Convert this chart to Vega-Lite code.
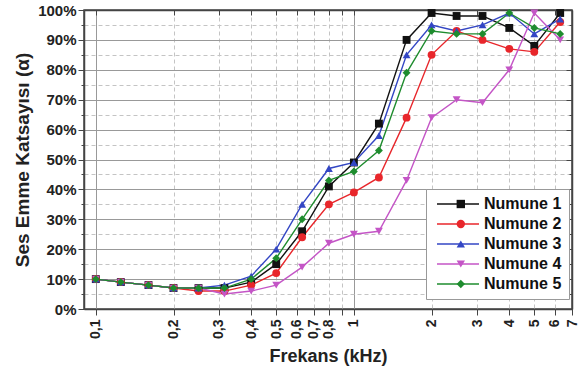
{
  "$schema": "https://vega.github.io/schema/vega-lite/v6.json",
  "width": 488,
  "height": 299,
  "autosize": {"type": "none"},
  "padding": {"left": 84, "top": 10, "right": 7, "bottom": 62},
  "background": "white",
  "config": {
    "font": "Liberation Sans",
    "view": {"stroke": "#444", "strokeWidth": 1.5},
    "axis": {"domainColor": "#444", "domainWidth": 1.5, "tickColor": "#444", "labelColor": "#222", "titleColor": "#222"}
  },
  "resolve": {"legend": {"color": "independent", "shape": "independent"}},
  "data": {"values": [
    {"f":0.1,"s":"Numune 1","v":10},{"f":0.125,"s":"Numune 1","v":9},{"f":0.16,"s":"Numune 1","v":8},{"f":0.2,"s":"Numune 1","v":7},{"f":0.25,"s":"Numune 1","v":7},{"f":0.315,"s":"Numune 1","v":7},{"f":0.4,"s":"Numune 1","v":9},{"f":0.5,"s":"Numune 1","v":15},{"f":0.63,"s":"Numune 1","v":26},{"f":0.8,"s":"Numune 1","v":41},{"f":1,"s":"Numune 1","v":49},{"f":1.25,"s":"Numune 1","v":62},{"f":1.6,"s":"Numune 1","v":90},{"f":2,"s":"Numune 1","v":99},{"f":2.5,"s":"Numune 1","v":98},{"f":3.15,"s":"Numune 1","v":98},{"f":4,"s":"Numune 1","v":94},{"f":5,"s":"Numune 1","v":88},{"f":6.3,"s":"Numune 1","v":99},
    {"f":0.1,"s":"Numune 2","v":10},{"f":0.125,"s":"Numune 2","v":9},{"f":0.16,"s":"Numune 2","v":8},{"f":0.2,"s":"Numune 2","v":7},{"f":0.25,"s":"Numune 2","v":6},{"f":0.315,"s":"Numune 2","v":6},{"f":0.4,"s":"Numune 2","v":8},{"f":0.5,"s":"Numune 2","v":12},{"f":0.63,"s":"Numune 2","v":24},{"f":0.8,"s":"Numune 2","v":35},{"f":1,"s":"Numune 2","v":39},{"f":1.25,"s":"Numune 2","v":44},{"f":1.6,"s":"Numune 2","v":64},{"f":2,"s":"Numune 2","v":85},{"f":2.5,"s":"Numune 2","v":93},{"f":3.15,"s":"Numune 2","v":90},{"f":4,"s":"Numune 2","v":87},{"f":5,"s":"Numune 2","v":86},{"f":6.3,"s":"Numune 2","v":96},
    {"f":0.1,"s":"Numune 3","v":10},{"f":0.125,"s":"Numune 3","v":9},{"f":0.16,"s":"Numune 3","v":8},{"f":0.2,"s":"Numune 3","v":7},{"f":0.25,"s":"Numune 3","v":7},{"f":0.315,"s":"Numune 3","v":8},{"f":0.4,"s":"Numune 3","v":11},{"f":0.5,"s":"Numune 3","v":20},{"f":0.63,"s":"Numune 3","v":35},{"f":0.8,"s":"Numune 3","v":47},{"f":1,"s":"Numune 3","v":49},{"f":1.25,"s":"Numune 3","v":58},{"f":1.6,"s":"Numune 3","v":85},{"f":2,"s":"Numune 3","v":95},{"f":2.5,"s":"Numune 3","v":93},{"f":3.15,"s":"Numune 3","v":95},{"f":4,"s":"Numune 3","v":99},{"f":5,"s":"Numune 3","v":92},{"f":6.3,"s":"Numune 3","v":97},
    {"f":0.1,"s":"Numune 4","v":10},{"f":0.125,"s":"Numune 4","v":9},{"f":0.16,"s":"Numune 4","v":8},{"f":0.2,"s":"Numune 4","v":7},{"f":0.25,"s":"Numune 4","v":7},{"f":0.315,"s":"Numune 4","v":5},{"f":0.4,"s":"Numune 4","v":6},{"f":0.5,"s":"Numune 4","v":8},{"f":0.63,"s":"Numune 4","v":14},{"f":0.8,"s":"Numune 4","v":22},{"f":1,"s":"Numune 4","v":25},{"f":1.25,"s":"Numune 4","v":26},{"f":1.6,"s":"Numune 4","v":43},{"f":2,"s":"Numune 4","v":64},{"f":2.5,"s":"Numune 4","v":70},{"f":3.15,"s":"Numune 4","v":69},{"f":4,"s":"Numune 4","v":80},{"f":5,"s":"Numune 4","v":99},{"f":6.3,"s":"Numune 4","v":90},
    {"f":0.1,"s":"Numune 5","v":10},{"f":0.125,"s":"Numune 5","v":9},{"f":0.16,"s":"Numune 5","v":8},{"f":0.2,"s":"Numune 5","v":7},{"f":0.25,"s":"Numune 5","v":7},{"f":0.315,"s":"Numune 5","v":7},{"f":0.4,"s":"Numune 5","v":10},{"f":0.5,"s":"Numune 5","v":17},{"f":0.63,"s":"Numune 5","v":30},{"f":0.8,"s":"Numune 5","v":43},{"f":1,"s":"Numune 5","v":46},{"f":1.25,"s":"Numune 5","v":53},{"f":1.6,"s":"Numune 5","v":79},{"f":2,"s":"Numune 5","v":93},{"f":2.5,"s":"Numune 5","v":92},{"f":3.15,"s":"Numune 5","v":92},{"f":4,"s":"Numune 5","v":99},{"f":5,"s":"Numune 5","v":94},{"f":6.3,"s":"Numune 5","v":92}
  ]},
  "layer": [
    {
      "mark": {"type": "line", "strokeWidth": 1.4},
      "encoding": {
        "x": {"field": "f", "type": "quantitative",
          "scale": {"type": "log", "domain": [0.09, 7], "nice": false},
          "axis": {"orient": "bottom", "values": [0.1,0.2,0.3,0.4,0.5,0.6,0.7,0.8,0.9,1,2,3,4,5,6,7],
            "labelExpr": "replace(toString(datum.value), '.', ',')",
            "labelAngle": -90, "labelFontSize": 14, "labelFontWeight": "bold", "labelPadding": 4,
            "tickSize": 6, "grid": true,
            "gridColor": {"condition": {"test": "datum.value == 0.1 || datum.value == 1", "value": "#999"}, "value": "#c4c4c4"},
            "gridDash": {"condition": {"test": "datum.value == 0.1 || datum.value == 1", "value": []}, "value": [4, 3]},
            "title": "Frekans (kHz)", "titleFontSize": 18, "titleFontWeight": "bold", "titlePadding": 9}},
        "y": {"field": "v", "type": "quantitative",
          "scale": {"domain": [0, 100], "nice": false},
          "axis": {"orient": "left", "values": [0,5,10,15,20,25,30,35,40,45,50,55,60,65,70,75,80,85,90,95,100],
            "labelExpr": "datum.value % 10 == 0 ? datum.value + '%' : ''",
            "labelFontSize": 15, "labelFontWeight": "bold", "labelPadding": 2,
            "tickSize": {"condition": {"test": "datum.value % 10 == 0", "value": 6}, "value": 3},
            "grid": true,
            "gridColor": {"condition": {"test": "datum.value % 10 == 0", "value": "#999"}, "value": "#c4c4c4"},
            "gridDash": {"condition": {"test": "datum.value % 10 == 0", "value": []}, "value": [4, 3]},
            "title": "Ses Emme Katsayısı (α)", "titleFontSize": 19, "titleFontWeight": "bold", "titlePadding": 5}},
        "color": {"field": "s", "type": "nominal",
          "scale": {"domain": ["Numune 1","Numune 2","Numune 3","Numune 4","Numune 5"], "range": ["#111111","#e8262b","#3346c4","#c455c6","#1e8c2e"]},
          "legend": {"orient": "none", "legendX": 342, "legendY": 179, "title": null,
            "labelFontSize": 16, "labelFontWeight": "bold", "labelColor": "#111",
            "symbolType": "M-3,0H3", "symbolSize": 196, "symbolStrokeWidth": 1.4,
            "symbolOffset": 17, "labelOffset": 18, "padding": 7, "rowPadding": 4,
            "strokeColor": "#999", "fillColor": "white"}}
      }
    },
    {
      "mark": {"type": "point", "filled": true, "size": 62, "opacity": 1},
      "encoding": {
        "x": {"field": "f", "type": "quantitative",
          "axis": {"orient": "top", "values": [0.1,0.2,0.3,0.4,0.5,0.6,0.7,0.8,0.9,1,2,3,4,5,6,7], "labels": false, "grid": false, "tickSize": -5, "title": null}},
        "y": {"field": "v", "type": "quantitative",
          "axis": {"orient": "right", "values": [0,5,10,15,20,25,30,35,40,45,50,55,60,65,70,75,80,85,90,95,100], "labels": false, "grid": false,
            "tickSize": {"condition": {"test": "datum.value % 10 == 0", "value": -6}, "value": -3}, "title": null}},
        "color": {"field": "s", "type": "nominal",
          "legend": {"orient": "none", "legendX": 342, "legendY": 179, "title": null,
            "labelFontSize": 16, "labelFontWeight": "bold", "labelExpr": "''",
            "symbolSize": 70, "symbolOffset": 19.8, "labelOffset": 20.8, "padding": 7, "rowPadding": 4,
            "strokeColor": "transparent", "fillColor": "transparent"}},
        "shape": {"field": "s", "type": "nominal",
          "scale": {"domain": ["Numune 1","Numune 2","Numune 3","Numune 4","Numune 5"], "range": ["square","circle","triangle-up","triangle-down","diamond"]},
          "legend": {"orient": "none", "legendX": 342, "legendY": 179, "title": null,
            "labelFontSize": 16, "labelFontWeight": "bold", "labelExpr": "''",
            "symbolSize": 70, "symbolOffset": 19.8, "labelOffset": 20.8, "padding": 7, "rowPadding": 4,
            "strokeColor": "transparent", "fillColor": "transparent"}}
      }
    }
  ]
}
